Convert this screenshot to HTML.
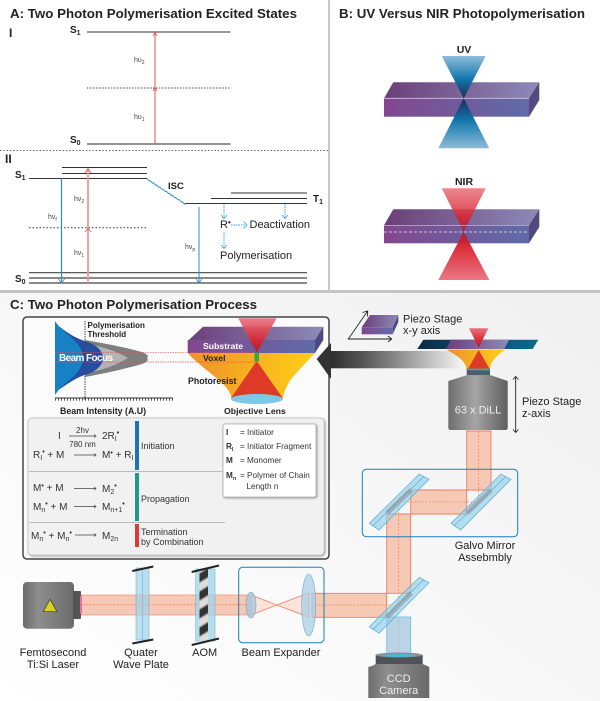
<!DOCTYPE html>
<html><head><meta charset="utf-8"><style>
html,body{margin:0;padding:0;background:#fff}
svg{display:block;font-family:"Liberation Sans",sans-serif}
.b{font-weight:bold}
.eq{font-size:10px;fill:#333}
.e2{font-size:9px;fill:#333}
.s{font-size:7px}
.lg{font-size:8.200px;fill:#333}
.lab{font-size:11px;fill:#222}
.h{font-size:7px;fill:#444}
</style></head><body>
<svg width="600" height="701" viewBox="0 0 600 701" xmlns="http://www.w3.org/2000/svg">
<defs>
<linearGradient id="bg" x1="0" y1="1" x2="1" y2="0"><stop offset="0" stop-color="#fff"/><stop offset=".45" stop-color="#f8f8f8"/><stop offset="1" stop-color="#f0f0f0"/></linearGradient>
<linearGradient id="pf" x1="0" x2="1"><stop offset="0" stop-color="#83478e"/><stop offset="1" stop-color="#5f6ca8"/></linearGradient>
<linearGradient id="pt" x1="0" x2="1"><stop offset="0" stop-color="#6b3f78"/><stop offset="1" stop-color="#8d8ab8"/></linearGradient>
<linearGradient id="uvt" x1="0" y1="0" x2="0" y2="1"><stop offset="0" stop-color="#8fbcd9"/><stop offset=".55" stop-color="#1177ad"/><stop offset="1" stop-color="#1b2b56"/></linearGradient>
<linearGradient id="uvb" x1="0" y1="1" x2="0" y2="0"><stop offset="0" stop-color="#8fbcd9"/><stop offset=".55" stop-color="#1177ad"/><stop offset="1" stop-color="#1b2b56"/></linearGradient>
<linearGradient id="rt" x1="0" y1="0" x2="0" y2="1"><stop offset="0" stop-color="#e9717c"/><stop offset=".7" stop-color="#d8202c"/><stop offset="1" stop-color="#a82030"/></linearGradient>
<linearGradient id="rb" x1="0" y1="1" x2="0" y2="0"><stop offset="0" stop-color="#e9717c"/><stop offset=".7" stop-color="#d8202c"/><stop offset="1" stop-color="#a82030"/></linearGradient>
<linearGradient id="res" x1="0" x2="1"><stop offset="0" stop-color="#f0902a"/><stop offset="1" stop-color="#fdd017"/></linearGradient>
<linearGradient id="bar" x1="0" x2="1"><stop offset="0" stop-color="#2e2e2e"/><stop offset=".25" stop-color="#555"/><stop offset="1" stop-color="#f4f4f4"/></linearGradient>
<linearGradient id="obj" x1="0" x2="1"><stop offset="0" stop-color="#6e6e6e"/><stop offset=".45" stop-color="#a5a5a5"/><stop offset="1" stop-color="#5e5e5e"/></linearGradient>
<linearGradient id="las" x1="0" x2="1"><stop offset="0" stop-color="#6c6c6c"/><stop offset=".3" stop-color="#8e8e8e"/><stop offset="1" stop-color="#6a6a6a"/></linearGradient>
<linearGradient id="stg" x1="0" x2="1"><stop offset="0" stop-color="#0d2a45"/><stop offset="1" stop-color="#0b6d8e"/></linearGradient>
<filter id="sh" x="-5%" y="-5%" width="110%" height="110%"><feDropShadow dx="1" dy="1" stdDeviation="1" flood-color="#777" flood-opacity=".7"/></filter>
<filter id="bl" x="-20%" y="-5%" width="140%" height="110%"><feGaussianBlur stdDeviation=".9"/></filter>
<clipPath id="aomc"><rect x="199.500" y="569" width="8.500" height="72"/></clipPath>
</defs>

<rect width="600" height="701" fill="#fff"/>
<rect x="0" y="293" width="600" height="408" fill="url(#bg)"/>
<rect x="0" y="290" width="600" height="3" fill="#c4c4c4"/>
<rect x="328" y="0" width="2" height="292" fill="#c8c8c8"/>

<!-- Panel A -->
<text x="10" y="18" class="b" font-size="13" fill="#222" textLength="287" lengthAdjust="spacingAndGlyphs">A: Two Photon Polymerisation Excited States</text>
<text x="9" y="37" class="b" font-size="12" fill="#222">I</text>
<text x="70" y="33" class="b" font-size="10" fill="#222">S<tspan class="s" dy="2">1</tspan></text>
<line x1="87" y1="32" x2="230.500" y2="32" stroke="#333" stroke-width="1"/>
<line x1="87" y1="88" x2="230.500" y2="88" stroke="#444" stroke-width="1" stroke-dasharray="1.500 1.500"/>
<line x1="87" y1="144" x2="230.500" y2="144" stroke="#555" stroke-width="1.300"/>
<text x="70" y="143" class="b" font-size="10" fill="#222">S<tspan class="s" dy="2">0</tspan></text>
<line x1="155" y1="144" x2="155" y2="33" stroke="#e8524f" stroke-width="1"/>
<path d="M153 36L155 32L157 36M153 91L155 87.500L157 91" fill="none" stroke="#e8524f" stroke-width=".8"/>
<text x="134" y="62" class="h">hυ<tspan font-size="5" dy="2">2</tspan></text>
<text x="134" y="119" class="h">hυ<tspan font-size="5" dy="2">1</tspan></text>
<line x1="0" y1="150.500" x2="328" y2="150.500" stroke="#666" stroke-width="1" stroke-dasharray="1.500 1.800"/>
<text x="5" y="163" class="b" font-size="12" fill="#222">II</text>
<text x="15" y="178" class="b" font-size="10" fill="#222">S<tspan class="s" dy="2">1</tspan></text>
<path d="M62 167.500H147M62 173.500H147M29 178.500H147" stroke="#333" stroke-width="1" fill="none"/>
<line x1="29" y1="227.700" x2="147" y2="227.700" stroke="#333" stroke-width="1" stroke-dasharray="1.500 2"/>
<path d="M29 272.700H307M29 278H307M29 283H307" stroke="#444" stroke-width="1.200" fill="none"/>
<text x="15" y="282" class="b" font-size="10" fill="#222">S<tspan class="s" dy="2">0</tspan></text>
<line x1="88" y1="283" x2="88" y2="169" stroke="#f09a94" stroke-width="1.800"/>
<path d="M85 173L88 168.500L91 173M85 232L88 228.500L91 232" fill="none" stroke="#e8524f" stroke-width=".8"/>
<line x1="61.500" y1="178" x2="61.500" y2="283" stroke="#2f8bc4" stroke-width="1.200"/>
<path d="M58.500 279L61.500 283L64.500 279" fill="none" stroke="#2f8bc4" stroke-width=".8"/>
<text x="74" y="201" class="h">hv<tspan font-size="5" dy="2">2</tspan></text>
<text x="74" y="255" class="h">hv<tspan font-size="5" dy="2">1</tspan></text>
<text x="48" y="219" class="h">hv<tspan font-size="5" dy="2">f</tspan></text>
<path d="M147 178.500l2.200 2.600 1-.5 2.200 2.600 1-.5 2.200 2.600 1-.5 2.200 2.600 1-.5 2.200 2.600 1-.5 2.200 2.600 1-.5 2.200 2.600 1-.5 2.200 2.600 1-.5 2.200 2.600 1-.5 2.200 2.600 1-.5 2.200 2.600 1-.5 2.200 2.600 1-.5" fill="none" stroke="#2f8bc4" stroke-width=".9"/>
<text x="168" y="189" class="b" font-size="9.500" fill="#222">ISC</text>
<path d="M185 203.500H307M211 198.500H307M231 193H307" stroke="#333" stroke-width="1" fill="none"/>
<text x="313" y="202" class="b" font-size="10" fill="#222">T<tspan class="s" dy="2">1</tspan></text>
<line x1="199" y1="207" x2="199" y2="283" stroke="#2f8bc4" stroke-width="1"/>
<path d="M196 279L199 283L202 279" fill="none" stroke="#2f8bc4" stroke-width=".8"/>
<text x="185" y="249" class="h">hv<tspan font-size="5" dy="2">p</tspan></text>
<path d="M224 204V218M285 204V218M231 225H246M224 232V248" stroke="#39a0d8" stroke-width="1" stroke-dasharray="1.500 1" fill="none"/>
<path d="M221 215L224 218.500L227 215M282 215L285 218.500L288 215M243.500 221.500L247 225L243.500 228.500M221 245L224 248.500L227 245" stroke="#39a0d8" stroke-width=".8" fill="none"/>
<text x="220" y="228" font-size="11" fill="#222">R<tspan font-size="8" dy="-3" font-weight="bold">•</tspan></text>
<text x="249.500" y="228" font-size="11" fill="#222">Deactivation</text>
<text x="220" y="259" font-size="11" fill="#222">Polymerisation</text>

<!-- Panel B -->
<text x="339" y="18" class="b" font-size="13" fill="#222" textLength="246" lengthAdjust="spacingAndGlyphs">B: UV Versus NIR Photopolymerisation</text>
<text x="464" y="53" class="b" font-size="10.500" fill="#222" text-anchor="middle">UV</text>
<polygon points="384,98.300 393.300,82.300 539.300,82.300 529,98.300" fill="url(#pt)"/>
<polygon points="529,98.300 539.300,82.300 539.300,100 529,116.700" fill="#54497f"/>
<rect x="384" y="98.300" width="145" height="18.400" fill="url(#pf)"/>
<line x1="384" y1="98.300" x2="529" y2="98.300" stroke="#cfc6de" stroke-width=".8"/>
<polygon points="441.700,56 485.700,56 463.700,98.300" fill="url(#uvt)"/>
<polygon points="438.300,148.300 489.300,148.300 463.700,98.300" fill="url(#uvb)"/>
<text x="464" y="185" class="b" font-size="10.500" fill="#222" text-anchor="middle">NIR</text>
<polygon points="384,225.300 393.300,209.300 539.300,209.300 529,225.300" fill="url(#pt)"/>
<polygon points="529,225.300 539.300,209.300 539.300,227 529,243.300" fill="#54497f"/>
<rect x="384" y="225.300" width="145" height="18" fill="url(#pf)"/>
<polygon points="441.700,188.300 485.700,188.300 463.700,231.700" fill="url(#rt)" opacity=".85"/>
<polygon points="438.300,280 489.300,280 463.700,231.700" fill="url(#rb)" opacity=".95"/>
<line x1="384" y1="225.300" x2="529" y2="225.300" stroke="#cfc6de" stroke-width=".6"/>
<line x1="384" y1="232" x2="529" y2="232" stroke="#e8e4f0" stroke-width=".8" stroke-dasharray="3 2"/>

<!-- Panel C title -->
<text x="10" y="309" class="b" font-size="13" fill="#222" textLength="247" lengthAdjust="spacingAndGlyphs">C: Two Photon Polymerisation Process</text>

<!-- Big arrow -->
<rect x="330" y="351" width="132" height="17.300" fill="url(#bar)"/>

<!-- Inset box -->
<rect x="23" y="317" width="306" height="242" rx="4" fill="#fbfbfb" stroke="#444" stroke-width="1.500"/>
<polygon points="316.700,359 331,343 331,379" fill="#333"/>

<!-- beam profile -->
<path d="M85 340C108 344 128 348 142 352Q150 355 147 358Q150 361 142 364C128 368 108 373 85 377Z" fill="#7f7f7f"/>
<path d="M85 344C105 347 118 352 128 358C118 364 105 370 85 373Z" fill="#b3b3b3"/>
<path d="M60 327C70 335 78 339 85 341C95 344 103 350 103 358C103 366 95 372 85 375C78 377 70 382 60 389Z" fill="#274da3"/>
<path d="M55 321C58 326 62 329 66 333C75 340 83 348 83 358C83 368 75 376 66 383C62 387 58 390 55 395Z" fill="#1682c4"/>
<path d="M55 352.700H190M55 362H190" stroke="#e8524f" stroke-width=".7" stroke-dasharray="1.500 1"/>
<line x1="85" y1="321" x2="85" y2="400" stroke="#444" stroke-width="1" stroke-dasharray="1.500 1"/>
<text x="59" y="361" class="b" font-size="10" fill="#fff" textLength="54">Beam Focus</text>
<text x="87.500" y="328" class="b" font-size="8" fill="#222">Polymerisation</text>
<text x="87.500" y="337" class="b" font-size="8" fill="#222">Threshold</text>
<line x1="55" y1="398" x2="173" y2="398" stroke="#333" stroke-width="1"/>
<line x1="55" y1="399.500" x2="173" y2="399.500" stroke="#333" stroke-width="2.500" stroke-dasharray=".8 2.200"/>
<text x="60" y="414" class="b" font-size="8.800" fill="#222">Beam Intensity (A.U)</text>
<text x="224" y="414" class="b" font-size="8.700" fill="#222">Objective Lens</text>

<!-- inset objective -->
<path d="M187.700 353H315C298 372 286 380 283 398H231.700C228 382 205 372 187.700 353Z" fill="url(#res)"/>
<polygon points="187.700,341 203,326.700 323.300,326.700 315,340" fill="url(#pt)"/>
<polygon points="315,340 323.300,326.700 323.300,340 315,353" fill="#4a4a80"/>
<rect x="187.700" y="340" width="127.300" height="13" fill="url(#pf)"/>
<polygon points="238.300,318.300 276.700,318.300 256.700,352.700" fill="url(#rt)" opacity=".92"/>
<polygon points="256.700,361 231,398 282.700,398" fill="#dd3a28"/>
<rect x="254.500" y="352.700" width="4.500" height="8.500" fill="#3aa24a"/>
<ellipse cx="257" cy="399" rx="26" ry="5" fill="#7cc8e6"/>
<text x="203" y="349" class="b" font-size="8.700" fill="#fff">Substrate</text>
<text x="203" y="361" class="b" font-size="8.700" fill="#222">Voxel</text>
<text x="188" y="384" class="b" font-size="8.800" fill="#222">Photoresist</text>
<path d="M190 352.700H255M190 362H256" stroke="#e8524f" stroke-width=".7" stroke-dasharray="1.500 1"/>

<!-- Equations panel -->
<rect x="28" y="418" width="296" height="137" rx="4" fill="#f1f1f1" stroke="#ccc" stroke-width="1" filter="url(#sh)"/>
<rect x="135" y="421" width="4" height="49" fill="#1b75b4"/>
<rect x="135" y="473" width="4" height="48" fill="#1d9a8c"/>
<rect x="135" y="524" width="4" height="23" fill="#dd3a3a"/>
<line x1="29" y1="471.500" x2="225" y2="471.500" stroke="#bbb" stroke-width="1"/>
<line x1="29" y1="522.500" x2="225" y2="522.500" stroke="#bbb" stroke-width="1"/>
<g fill="none" stroke="#444" stroke-width=".7">
<path d="M69 436H96M94 434.500L96 436L94 437.500"/>
<path d="M74 455H96M94 453.500L96 455L94 456.500"/>
<path d="M74 488.500H96M94 487L96 488.500L94 490"/>
<path d="M74 506.500H96M94 505L96 506.500L94 508"/>
<path d="M75 535H96M94 533.500L96 535L94 536.500"/>
</g>
<text x="58" y="439" class="eq">I</text>
<text x="82.500" y="433" class="eq" style="font-size:8px" text-anchor="middle">2hv</text>
<text x="82.500" y="447" class="eq" style="font-size:8px" text-anchor="middle">780 nm</text>
<text x="102" y="439" class="eq">2R<tspan class="s" dy="2">I</tspan><tspan class="s" dy="-6" font-weight="bold">•</tspan></text>
<text x="33" y="458" class="eq">R<tspan class="s" dy="2">I</tspan><tspan class="s" dy="-6" font-weight="bold">•</tspan><tspan dy="4"> + M</tspan></text>
<text x="102" y="458" class="eq">M<tspan class="s" dy="-3" font-weight="bold">•</tspan><tspan dy="3"> + R</tspan><tspan class="s" dy="2">I</tspan></text>
<text x="33" y="491" class="eq">M<tspan class="s" dy="-3" font-weight="bold">•</tspan><tspan dy="3"> + M</tspan></text>
<text x="102" y="492" class="eq">M<tspan class="s" dy="2">2</tspan><tspan class="s" dy="-6" font-weight="bold">•</tspan></text>
<text x="33" y="510" class="eq">M<tspan class="s" dy="2">n</tspan><tspan class="s" dy="-6" font-weight="bold">•</tspan><tspan dy="4"> + M</tspan></text>
<text x="102" y="510" class="eq">M<tspan class="s" dy="2">n+1</tspan><tspan class="s" dy="-6" font-weight="bold">•</tspan></text>
<text x="31" y="539" class="eq">M<tspan class="s" dy="2">n</tspan><tspan class="s" dy="-6" font-weight="bold">•</tspan><tspan dy="4"> + M</tspan><tspan class="s" dy="2">n</tspan><tspan class="s" dy="-6" font-weight="bold">•</tspan></text>
<text x="102" y="539" class="eq">M<tspan class="s" dy="2">2n</tspan></text>
<text x="141" y="449" class="e2">Initiation</text>
<text x="141" y="502" class="e2">Propagation</text>
<text x="141" y="535" class="e2">Termination</text>
<text x="141" y="545" class="e2">by Combination</text>
<rect x="223" y="424" width="93" height="73" rx="2" fill="#fff" stroke="#aaa" stroke-width=".8" filter="url(#sh)"/>
<text x="226" y="435" class="lg b">I</text><text x="240" y="435" class="lg">= Initiator</text>
<text x="226" y="449" class="lg b">R<tspan font-size="5.500" dy="2">I</tspan></text><text x="240" y="449" class="lg">= Initiator Fragment</text>
<text x="226" y="463" class="lg b">M</text><text x="240" y="463" class="lg">= Monomer</text>
<text x="226" y="478" class="lg b">M<tspan font-size="5.500" dy="2">n</tspan></text><text x="240" y="478" class="lg">= Polymer of Chain</text>
<text x="246.500" y="489" class="lg">Length n</text>

<!-- Piezo stage xy -->
<polygon points="361.700,327.300 370,315 398.300,315 392.700,327.300" fill="url(#pt)"/>
<polygon points="392.700,327.300 398.300,315 398.300,322 392.700,334.300" fill="#4a4a80"/>
<rect x="361.700" y="327.300" width="31" height="7" fill="url(#pf)"/>
<path d="M391.700 339H348.300L367.700 311M362.500 312.500L367.700 311L367.500 316.500M388 336L391.700 339L388 342" fill="none" stroke="#222" stroke-width=".9"/>
<text x="403" y="322.300" class="lab">Piezo Stage</text>
<text x="403" y="334" class="lab">x-y axis</text>

<!-- Stage + focus -->
<polygon points="417.300,349 423.300,339.700 538.300,339.700 532.700,349" fill="url(#stg)"/>
<polygon points="446,349 450.700,339.700 509,339.700 504.300,349" fill="url(#pt)"/>
<path d="M446.700 349.500H505C497 356 491 360 490 369H466.700C465 360 457 356 446.700 349.500Z" fill="url(#res)"/>
<polygon points="469,328.300 488.300,328.300 478.700,347.700" fill="url(#rt)"/>
<polygon points="478.700,350 468.300,368.300 489.300,368.300" fill="#dd3a28"/>

<!-- Objective -->
<rect x="466.700" y="368.500" width="23.300" height="7" fill="#4e5e68"/>
<rect x="467.500" y="369" width="22" height="1.300" fill="#3aa6c8"/>
<path d="M467.300 375H490L507.700 381V428Q507.700 430 505 430H451Q448.300 430 448.300 428V381Z" fill="url(#obj)"/>
<text x="478" y="413.700" font-size="11" fill="#eee" text-anchor="middle">63 x DiLL</text>
<path d="M515.700 377V432M513 379.500L515.700 376.500L518.400 379.500M513 429.500L515.700 432.500L518.400 429.500" fill="none" stroke="#222" stroke-width=".9"/>
<text x="522" y="405" class="lab">Piezo Stage</text>
<text x="522" y="417" class="lab">z-axis</text>

<!-- Camera blue beam -->
<rect x="386.700" y="617" width="24" height="38" fill="#bcd3e6" stroke="#5cc4e8" stroke-width=".8"/>

<!-- Laser beam -->
<rect x="81" y="595" width="170" height="20" fill="#f6c9b6" stroke="#ee7b62" stroke-width=".6"/>
<polygon points="251,595 276.700,605 308.700,593 308.700,617 276.700,605 251,615" fill="#fbe3d8" stroke="#ee7b62" stroke-width=".8"/>
<!-- Main folded beam -->
<polygon points="466.700,431 491,431 491,490 410.700,490 410.700,593.300 312,593.300 312,617.300 386.700,617.300 386.700,514 466.700,514" fill="#f6c9b6" stroke="#ee7b62" stroke-width=".9"/>
<path d="M478.700 431V502H398.700V605H312M82 604.700H251" fill="none" stroke="#f08a50" stroke-width=".8" stroke-dasharray="2 1.500"/>
<line x1="398.700" y1="617" x2="398.700" y2="655" stroke="#9cc3dc" stroke-width=".8" stroke-dasharray="2 1.500"/>

<!-- Mirrors -->
<g fill="#8ed0ea" fill-opacity=".65" stroke="#5aaad2" stroke-width=".7">
<polygon points="369.300,523.300 419.300,474 429,479.300 379,530"/>
<polygon points="451,523.300 501,474 511,479.300 460.700,530"/>
<polygon points="369.300,626.700 419.300,577.300 429,582.700 379,633.300"/>
</g>
<path d="M372.500 526L424 476.500M454 526L506 476.500M372.500 630L424 579.500" stroke="#5aaad2" stroke-width=".6" fill="none"/>
<path d="M387 513L411 490M467 513L491 490M387 617L411 593" stroke="#8a8f98" stroke-width="5" opacity=".55"/>
<rect x="362.300" y="469.300" width="155.400" height="67.400" rx="4" fill="none" stroke="#1b7fb8" stroke-width="1"/>
<text x="485" y="549" class="lab" text-anchor="middle">Galvo Mirror</text>
<text x="485" y="561" class="lab" text-anchor="middle">Assebmbly</text>

<!-- Camera -->
<rect x="375.700" y="655" width="47" height="10" fill="#4f5357"/>
<ellipse cx="399" cy="655" rx="23.500" ry="2.500" fill="#8a8f94"/>
<ellipse cx="399" cy="655.500" rx="17" ry="1.300" fill="#35c0ea"/>
<path d="M372 666L375.700 664H422.700L429.300 667V698H368.300V667Z" fill="url(#las)"/>
<text x="398.700" y="682" font-size="11" fill="#eee" text-anchor="middle">CCD</text>
<text x="398.700" y="694" font-size="11" fill="#eee" text-anchor="middle">Camera</text>

<!-- Laser -->
<rect x="23" y="582" width="51" height="46.700" rx="4" fill="url(#las)"/>
<rect x="73" y="591" width="8" height="28" rx="1" fill="#555"/>
<rect x="80" y="596" width="2" height="18" fill="#e86fa0"/>
<polygon points="50,599.300 43.300,611.700 57,611.700" fill="#d9d21c" stroke="#333" stroke-width=".6"/>

<!-- QWP -->
<rect x="136" y="568" width="13" height="72" fill="#9fd3ea" fill-opacity=".7" stroke="#5aaad2" stroke-width=".5"/>
<line x1="142.500" y1="568" x2="142.500" y2="640" stroke="#5aaad2" stroke-width=".5"/>
<line x1="132.300" y1="571" x2="153.300" y2="566.500" stroke="#222" stroke-width="2"/>
<line x1="132.300" y1="643.500" x2="153.300" y2="639.500" stroke="#222" stroke-width="2"/>

<!-- AOM -->
<rect x="195.700" y="569" width="19.300" height="72" fill="#9fd3ea" fill-opacity=".75" stroke="#5aaad2" stroke-width=".5"/>
<rect x="199.500" y="569" width="8.500" height="72" fill="#ddd"/>
<g clip-path="url(#aomc)"><g fill="#333" filter="url(#bl)">
<polygon points="197,575 210,567 210,576 197,584"/>
<polygon points="197,593 210,585 210,594 197,602"/>
<polygon points="197,611 210,603 210,612 197,620"/>
<polygon points="197,629 210,621 210,630 197,638"/>
</g></g>
<line x1="191.700" y1="572" x2="219" y2="565.500" stroke="#222" stroke-width="2"/>
<line x1="191.700" y1="645" x2="219" y2="638.500" stroke="#222" stroke-width="2"/>

<!-- Expander -->
<ellipse cx="251" cy="605" rx="5" ry="13" fill="#a9c6dc" fill-opacity=".8" stroke="#6fa6cc" stroke-width=".6"/>
<ellipse cx="308.700" cy="605" rx="7" ry="31" fill="#a9cfe6" fill-opacity=".75" stroke="#6fa6cc" stroke-width=".6"/>
<rect x="238.700" y="567.300" width="85.300" height="75.400" rx="4" fill="none" stroke="#1b7fb8" stroke-width="1"/>

<text x="53" y="656" class="lab" text-anchor="middle">Femtosecond</text>
<text x="53" y="668" class="lab" text-anchor="middle">Ti:Si Laser</text>
<text x="141" y="656" class="lab" text-anchor="middle">Quater</text>
<text x="141" y="668" class="lab" text-anchor="middle">Wave Plate</text>
<text x="204.700" y="656" class="lab" text-anchor="middle">AOM</text>
<text x="281" y="656" class="lab" text-anchor="middle">Beam Expander</text>
</svg>
</body></html>
